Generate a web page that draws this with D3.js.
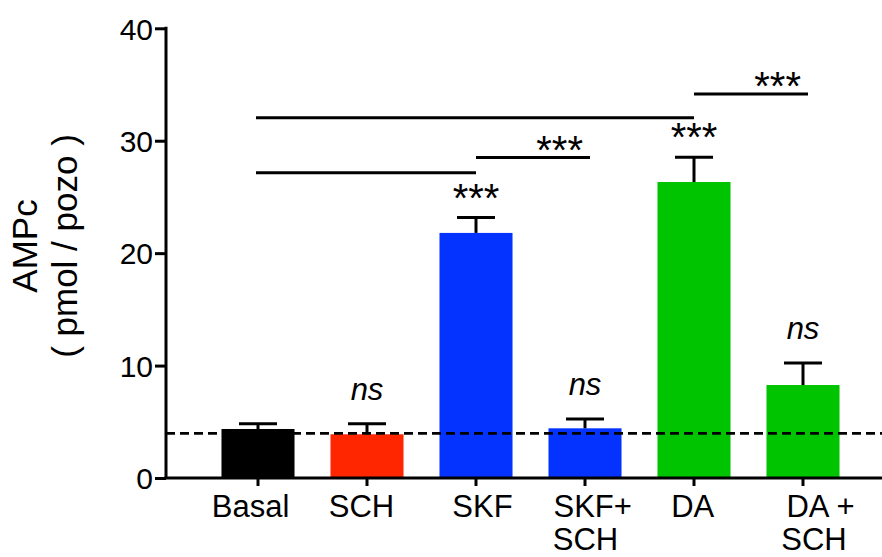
<!DOCTYPE html>
<html>
<head>
<meta charset="utf-8">
<script src="https://cdn.jsdelivr.net/npm/d3@7"></script>
<style>
  html, body { margin: 0; padding: 0; background: #fff; }
  svg { display: block; }
  text { font-family: "Liberation Sans", Arial, Helvetica, sans-serif; fill: #000; }
</style>
</head>
<body>
<svg id="chart" width="882" height="557"></svg>
<script>
// ---- data ----
const categories = ["Basal", "SCH", "SKF", "SKF+SCH", "DA", "DA+SCH"];
const categoryLabels = [["Basal"], ["SCH"], ["SKF"], ["SKF+", "SCH"], ["DA"], ["DA +", "SCH"]];
const means = [4.36, 3.89, 21.8, 4.42, 26.33, 8.27];
const sems = [0.47, 0.94, 1.36, 0.83, 2.2, 1.96];
const barSignificance = ["", "ns", "***", "ns", "***", "ns"];
const comparisonFrom = ["Basal", "Basal", "SKF", "DA"];
const comparisonTo = ["DA", "SKF", "SKF+SCH", "DA+SCH"];
const comparisonLevel = [32.05, 27.16, 28.5, 34.16];
const comparisonLabel = ["", "", "***", "***"];
const basalLevel = 3.97;
const yTicks = [0, 10, 20, 30, 40];
const yLabelLines = ["AMPc", "( pmol / pozo )"];

// ---- style ----
const barColors = ["#000000", "#ff2600", "#0433ff", "#0433ff", "#00c400", "#00c400"];
const labelDx = [[-7.5], [-5.5], [6.5], [7.7, 0.5], [-1.3], [17.5, 11]];

const svg = d3.select("#chart");
const axisX = 166, y0px = 478, y40px = 28.3;

const x = d3.scaleBand().domain(categories).range([203.5, 857.5]).paddingInner(0.33).paddingOuter(0.165);
const y = d3.scaleLinear().domain([0, 40]).range([y0px, y40px]);
const cx = c => x(c) + x.bandwidth() / 2;

const rows = categories.map((c, i) => ({ c, m: means[i], s: sems[i], color: barColors[i], sig: barSignificance[i], lines: categoryLabels[i], dx: labelDx[i] }));

// bars
svg.append("g").selectAll("rect").data(rows).join("rect")
  .attr("x", d => x(d.c))
  .attr("width", x.bandwidth())
  .attr("y", d => y(d.m))
  .attr("height", d => y(0) - y(d.m))
  .attr("fill", d => d.color);

// error bars (upper only)
const eb = svg.append("g").attr("stroke", "#000").attr("stroke-width", 3);
eb.selectAll("line.v").data(rows).join("line").attr("class", "v")
  .attr("x1", d => cx(d.c)).attr("x2", d => cx(d.c))
  .attr("y1", d => y(d.m)).attr("y2", d => y(d.m + d.s));
eb.selectAll("line.h").data(rows).join("line").attr("class", "h")
  .attr("x1", d => cx(d.c) - 19).attr("x2", d => cx(d.c) + 19)
  .attr("y1", d => y(d.m + d.s)).attr("y2", d => y(d.m + d.s));

// dashed basal line
svg.append("line")
  .attr("x1", axisX).attr("x2", 882)
  .attr("y1", y(basalLevel)).attr("y2", y(basalLevel))
  .attr("stroke", "#000").attr("stroke-width", 2.7)
  .attr("stroke-dasharray", "9,5");

// y axis
const yAxis = d3.axisLeft(y).tickValues(yTicks).tickSize(11).tickPadding(2).tickFormat(d3.format("d"));
const gy = svg.append("g").attr("transform", `translate(${axisX},0)`).call(yAxis);
gy.select(".domain").remove();
gy.append("line").attr("x1", 0).attr("x2", 0).attr("y1", y(40) - 1.5).attr("y2", y(0))
  .attr("stroke", "#000").attr("stroke-width", 3);
gy.selectAll(".tick line").attr("stroke", "#000").attr("stroke-width", 3);
gy.selectAll(".tick text").attr("font-size", 30).attr("fill", "#000")
  .attr("font-family", "Liberation Sans, Arial, sans-serif").attr("dy", "0.36em");

// x axis
const xAxis = d3.axisBottom(x).tickSize(8).tickFormat("");
const gx = svg.append("g").attr("transform", `translate(0,${y0px})`).call(xAxis);
gx.select(".domain").remove();
gx.append("line").attr("x1", axisX - 1.5).attr("x2", 882).attr("y1", 0).attr("y2", 0)
  .attr("stroke", "#000").attr("stroke-width", 3);
gx.selectAll(".tick line").attr("stroke", "#000").attr("stroke-width", 3);

// x labels
const xl = svg.append("g");
rows.forEach(d => {
  d.lines.forEach((t, j) => {
    xl.append("text")
      .attr("x", cx(d.c) + d.dx[j])
      .attr("y", 517 + j * 33)
      .attr("text-anchor", "middle")
      .attr("font-size", 31)
      .text(t);
  });
});

// y label
const yl = svg.append("g").attr("transform", "translate(0,246) rotate(-90)");
yLabelLines.forEach((t, j) => {
  yl.append("text").attr("x", 0).attr("y", 37 + j * 40)
    .attr("text-anchor", "middle").attr("font-size", 35).text(t);
});

// significance over bars
svg.append("g").selectAll("text").data(rows.filter(d => d.sig)).join("text")
  .attr("x", d => cx(d.c))
  .attr("y", d => d.sig === "ns" ? y(d.m + d.s) - 24 : y(d.m + d.s) - 6)
  .attr("text-anchor", "middle")
  .attr("font-size", d => d.sig === "ns" ? 31 : 40)
  .attr("font-style", d => d.sig === "ns" ? "italic" : "normal")
  .text(d => d.sig);

// comparison brackets
const comps = comparisonFrom.map((f, i) => ({ f, t: comparisonTo[i], v: comparisonLevel[i], label: comparisonLabel[i] }));
const cg = svg.append("g");
comps.forEach(d => {
  const x1 = cx(d.f) + (d.label ? 0 : -2);
  const x2 = cx(d.t) + (d.label ? 5 : 0);
  cg.append("line").attr("x1", x1).attr("x2", x2).attr("y1", y(d.v)).attr("y2", y(d.v))
    .attr("stroke", "#000").attr("stroke-width", 3);
  if (d.label) {
    cg.append("text").attr("x", x2 - 7).attr("y", y(d.v) + 6)
      .attr("text-anchor", "end").attr("font-size", 40).text(d.label);
  }
});
</script>
</body>
</html>
